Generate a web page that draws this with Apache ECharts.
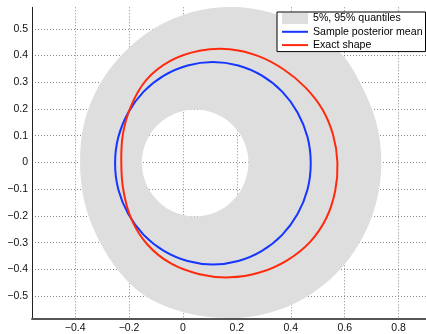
<!DOCTYPE html>
<html>
<head>
<meta charset="utf-8">
<script src="https://cdn.jsdelivr.net/npm/echarts@6/dist/echarts.min.js"></script>
<style>
html,body{margin:0;padding:0;background:#fff;}
#main{width:426px;height:334px;}
</style>
</head>
<body>
<div id="main"></div>
<script>
// Names
const seriesNames = ['5%, 95% quantiles', 'Sample posterior mean', 'Exact shape'];

// Outer boundary of the 5%-95% band
const bandOuter = [
  [0.736, 0.000], [0.717, 0.151], [0.661, 0.291], [0.585, 0.410], [0.457, 0.504],
  [0.322, 0.562], [0.177, 0.582], [0.032, 0.562], [-0.103, 0.504], [-0.218, 0.412],
  [-0.310, 0.291], [-0.366, 0.151], [-0.382, 0.000], [-0.365, -0.151], [-0.312, -0.291],
  [-0.232, -0.415], [-0.130, -0.506], [0.020, -0.565], [0.177, -0.582], [0.322, -0.562],
  [0.457, -0.504], [0.572, -0.412], [0.661, -0.291], [0.717, -0.151]
];

// Inner boundary (hole) of the band
const bandInner = [
  [0.243, 0.000], [0.216, 0.099], [0.144, 0.171], [0.045, 0.198], [-0.054, 0.171],
  [-0.126, 0.099], [-0.153, 0.000], [-0.126, -0.101], [-0.054, -0.175], [0.045, -0.202],
  [0.144, -0.175], [0.216, -0.101]
];

// Sample posterior mean curve
const meanCurve = [
  [0.474, -0.003], [0.462, 0.095], [0.425, 0.187], [0.368, 0.265], [0.293, 0.325],
  [0.205, 0.363], [0.111, 0.376], [0.017, 0.363], [-0.071, 0.325], [-0.146, 0.265],
  [-0.203, 0.187], [-0.240, 0.095], [-0.252, -0.003], [-0.240, -0.101], [-0.203, -0.193],
  [-0.146, -0.271], [-0.071, -0.331], [0.017, -0.369], [0.111, -0.382], [0.205, -0.369],
  [0.293, -0.331], [0.368, -0.271], [0.425, -0.193], [0.462, -0.101]
];

// Exact shape curve
const exactCurve = [
  [0.573, 0.000], [0.557, 0.103], [0.517, 0.199], [0.454, 0.281], [0.374, 0.348],
  [0.280, 0.398], [0.173, 0.424], [0.061, 0.418], [-0.047, 0.380], [-0.136, 0.309],
  [-0.193, 0.211], [-0.223, 0.106], [-0.229, 0.000], [-0.221, -0.106], [-0.192, -0.211],
  [-0.133, -0.306], [-0.045, -0.378], [0.061, -0.418], [0.173, -0.430], [0.284, -0.412],
  [0.385, -0.367], [0.471, -0.298], [0.532, -0.208], [0.565, -0.105]
];

// Closed Catmull-Rom path through pixel points
function closedPathD(pts) {
  const n = pts.length;
  const f = v => v.toFixed(2);
  let d = 'M' + f(pts[0][0]) + ' ' + f(pts[0][1]);
  for (let i = 0; i < n; i++) {
    const p0 = pts[(i - 1 + n) % n], p1 = pts[i], p2 = pts[(i + 1) % n], p3 = pts[(i + 2) % n];
    const c1x = p1[0] + (p2[0] - p0[0]) / 6, c1y = p1[1] + (p2[1] - p0[1]) / 6;
    const c2x = p2[0] - (p3[0] - p1[0]) / 6, c2y = p2[1] - (p3[1] - p1[1]) / 6;
    d += ' C' + f(c1x) + ' ' + f(c1y) + ' ' + f(c2x) + ' ' + f(c2y) + ' ' + f(p2[0]) + ' ' + f(p2[1]);
  }
  return d + ' Z';
}

const fmt = v => {
  const r = Math.round(v * 10) / 10;
  return String(r).replace('-', '\u2212');
};

function curveSeries(name, pts, color, z) {
  return {
    name: name,
    type: 'custom',
    coordinateSystem: 'cartesian2d',
    itemStyle: {color: color},
    z: z,
    data: pts,
    renderItem: function (params, api) {
      if (params.dataIndex !== 0) return null;
      const px = pts.map(p => api.coord(p));
      return {
        type: 'path',
        shape: {pathData: closedPathD(px)},
        style: {fill: null, stroke: color, lineWidth: 2}
      };
    }
  };
}

const chart = echarts.init(document.getElementById('main'), null, {renderer: 'canvas'});
const axisFont = {fontFamily: 'Liberation Sans, Arial, sans-serif', fontSize: 10.5, color: '#111'};
const lineIcon = 'path://M0,0 H26 V2 H0 Z';

chart.setOption({
  animation: false,
  backgroundColor: '#fff',
  grid: {left: 32, right: 0, top: 7.3, bottom: 13.3, containLabel: false},
  legend: {
    left: 277, top: 12,
    orient: 'vertical',
    backgroundColor: '#fff',
    borderColor: '#000', borderWidth: 1,
    padding: [1, 3, 1, 5],
    itemWidth: 26, itemHeight: 11, itemGap: 2.3,
    textStyle: {fontFamily: 'Liberation Sans, Arial, sans-serif', fontSize: 10.6, color: '#000'},
    data: [
      {name: seriesNames[0], icon: 'rect'},
      {name: seriesNames[1], icon: lineIcon},
      {name: seriesNames[2], icon: lineIcon}
    ]
  },
  xAxis: {
    type: 'value', min: -0.5603, max: 0.9017, splitNumber: 7,
    axisLine: {show: true, onZero: false, lineStyle: {color: '#555', width: 2}},
    axisTick: {show: false},
    axisLabel: Object.assign({formatter: fmt, margin: 4, showMinLabel: false, showMaxLabel: false}, axisFont),
    splitLine: {show: true, showMinLine: false, showMaxLine: false, lineStyle: {color: '#888', width: 1, type: [1, 2]}}
  },
  yAxis: {
    type: 'value', min: -0.5858, max: 0.5806, splitNumber: 12,
    axisLine: {show: true, onZero: false, lineStyle: {color: '#222', width: 1}},
    axisTick: {show: false},
    axisLabel: Object.assign({formatter: fmt, margin: 4, showMinLabel: false, showMaxLabel: false}, axisFont),
    splitLine: {show: true, showMinLine: false, showMaxLine: false, lineStyle: {color: '#888', width: 1, type: [1, 2]}}
  },
  series: [
    {
      name: seriesNames[0],
      type: 'custom',
      coordinateSystem: 'cartesian2d',
      itemStyle: {color: '#dedede'},
      z: 1,
      data: bandOuter,
      renderItem: function (params, api) {
        if (params.dataIndex !== 0) return null;
        const outer = bandOuter.map(p => api.coord(p));
        const inner = bandInner.map(p => api.coord(p)).reverse();
        return {
          type: 'path',
          shape: {pathData: closedPathD(outer) + ' ' + closedPathD(inner)},
          style: {fill: '#dedede', stroke: null}
        };
      }
    },
    curveSeries(seriesNames[1], meanCurve, '#1436ff', 3),
    curveSeries(seriesNames[2], exactCurve, '#ff2a0d', 4)
  ]
});
</script>
</body>
</html>
